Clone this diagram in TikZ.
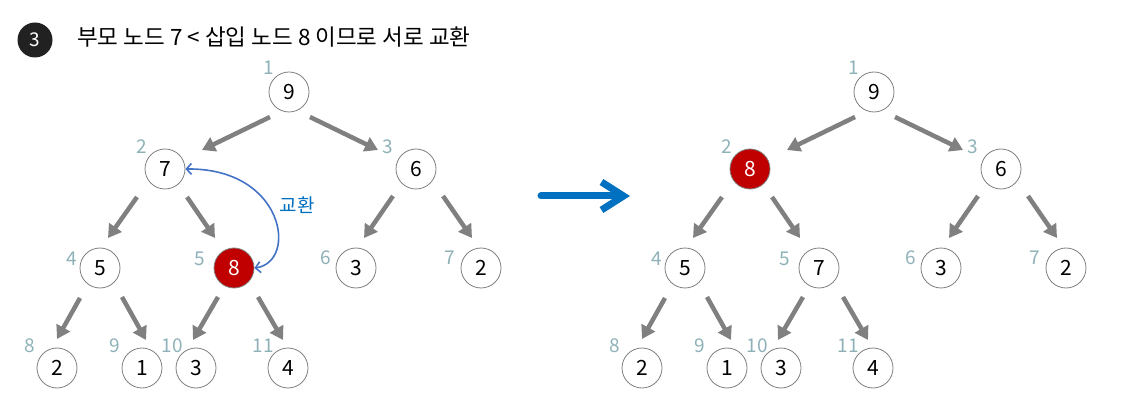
\documentclass[tikz,border=0pt]{standalone}
\usepackage{fontspec}
\setmainfont{Noto Sans CJK KR}
\usetikzlibrary{arrows.meta}

\definecolor{hotred}{RGB}{192,0,0}
\definecolor{idxgray}{RGB}{143,178,184}
\definecolor{ringgray}{RGB}{127,127,127}
\definecolor{linkgray}{RGB}{128,128,128}
\definecolor{swapblue}{RGB}{68,114,196}
\definecolor{textblue}{RGB}{0,112,192}

\begin{document}
\begin{tikzpicture}[
    x=1pt, y=-1pt,
    key/.style={circle, draw=ringgray, line width=0.8pt, fill=white, minimum size=40pt, inner sep=0pt, font=\fontsize{21}{21}\selectfont},
    hot/.style={key, fill=hotred, text=white},
    idx/.style={text=idxgray, inner sep=0pt, font=\fontsize{19}{19}\selectfont},
    link/.style={-{Triangle[length=13pt,width=15pt]}, line width=4.5pt, draw=linkgray},
    swap/.style={{Straight Barb[length=5pt,width=11pt]}-{Straight Barb[length=5pt,width=11pt]}, line width=1.6pt, draw=swapblue},
    bigarrow/.style={-{Straight Barb[length=22pt,width=28pt]}, line width=7pt, line cap=round, draw=textblue}
]
\useasboundingbox (0,0) rectangle (1126,411);

% step badge and caption
\node[circle, fill=black!87, text=white, minimum size=35pt, inner sep=0pt, font=\fontsize{19}{19}\selectfont] (badge) at (35,40) {3};
\node[anchor=west, inner sep=0pt, font=\fontsize{22.5}{22.5}\selectfont] (caption) at (77,37) {부모 노드 7 < 삽입 노드 8 이므로 서로 교환};

% before the swap
\node[key] (l1) at (289,92) {9};
\node[key] (l2) at (165,169) {7};
\node[key] (l3) at (416,169) {6};
\node[key] (l4) at (100,268) {5};
\node[hot] (l5) at (234,268) {8};
\node[key] (l6) at (356,268) {3};
\node[key] (l7) at (481,268) {2};
\node[key] (l8) at (57,368) {2};
\node[key] (l9) at (142,368) {1};
\node[key] (l10) at (196,368) {3};
\node[key] (l11) at (288,368) {4};

% after the swap
\node[key] (r1) at (874,92) {9};
\node[hot] (r2) at (750,169) {8};
\node[key] (r3) at (1001,169) {6};
\node[key] (r4) at (685,268) {5};
\node[key] (r5) at (819,268) {7};
\node[key] (r6) at (941,268) {3};
\node[key] (r7) at (1066,268) {2};
\node[key] (r8) at (642,368) {2};
\node[key] (r9) at (727,368) {1};
\node[key] (r10) at (781,368) {3};
\node[key] (r11) at (873,368) {4};

% index numbers and parent-child links of both trees
\foreach \s in {l,r} {
  \foreach \n/\dx/\dy in {1/-20/-24, 2/-23/-22, 3/-28/-22, 4/-28/-9, 5/-34/-9, 6/-30/-10,
                          7/-31/-10, 8/-27/-22, 9/-27/-22, 10/-24/-22, 11/-25/-22}
    \node[idx] (\s i\n) at ([shift={(\dx,\dy)}]\s\n.center) {\n};
  \foreach \p/\c/\a/\b in {1/2/{-19,25}/{37,-19}, 1/3/{21,25}/{-38,-19},
                           2/4/{-28,28}/{8,-30}, 2/5/{22,28}/{-19,-30},
                           3/6/{-23,27}/{8,-30}, 3/7/{27,27}/{-9,-30},
                           4/8/{-20,30}/{0,-29}, 4/9/{22,29}/{4,-28},
                           5/10/{-16,29}/{-3,-28}, 5/11/{24,29}/{-5,-28}}
    \draw[link] ([shift={(\a)}]\s\p.center) -- ([shift={(\b)}]\s\c.center);
}

\draw[swap] (l5.east) .. controls (298,262) and (285,168) .. (l2.east);
\node[text=textblue, font=\fontsize{19}{19}\selectfont] (swaptext) at (297,205) {교환};

% the big arrow
\coordinate (from) at (541,196);
\coordinate (to) at (630,196);
\draw[bigarrow] (from) -- (to);
\end{tikzpicture}
\end{document}
